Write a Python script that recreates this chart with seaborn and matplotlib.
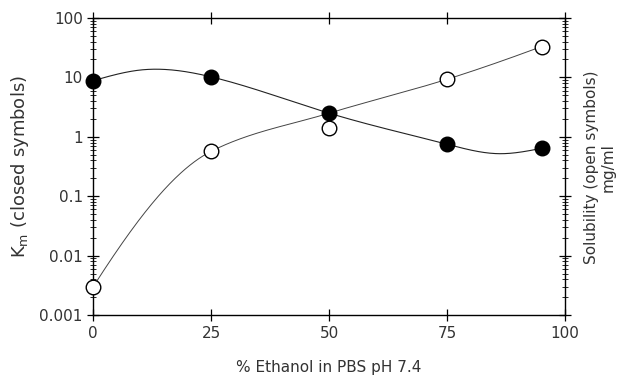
import numpy as np
import pandas as pd
import matplotlib
matplotlib.use("Agg")
import matplotlib.pyplot as plt
import seaborn as sns
from matplotlib.ticker import LogLocator, FixedLocator, NullFormatter

# Data
ethanol = [0, 25, 50, 75, 95]
km_closed = [8.8, 10.2, 2.5, 0.75, 0.64]
sol_open = [0.003, 0.57, 1.42, 9.3, 33.0]

# smooth fit curves as drawn in the picture (knots)
km_curve_x = [0, 10, 25, 50, 75, 86, 95]
km_curve_y = [8.8, 13.3, 10.2, 2.5, 0.75, 0.52, 0.64]
sol_curve_x = [0, 25, 50, 75, 95]
sol_curve_y = [0.003, 0.57, 2.5, 9.3, 33.0]

x_ticks = [0, 25, 50, 75, 100]
y_ticks = [0.001, 0.01, 0.1, 1, 10, 100]
y_tick_labels = ["0.001", "0.01", "0.1", "1", "10", "100"]


def natural_spline(x, y, xs):
    x = np.asarray(x, float); y = np.asarray(y, float)
    n = len(x)
    h = np.diff(x)
    A = np.zeros((n, n)); b = np.zeros(n)
    A[0, 0] = 1; A[-1, -1] = 1
    for i in range(1, n - 1):
        A[i, i - 1] = h[i - 1]
        A[i, i] = 2 * (h[i - 1] + h[i])
        A[i, i + 1] = h[i]
        b[i] = 3 * ((y[i + 1] - y[i]) / h[i] - (y[i] - y[i - 1]) / h[i - 1])
    c = np.linalg.solve(A, b)
    out = np.empty_like(xs)
    for k, xv in enumerate(xs):
        i = int(np.clip(np.searchsorted(x, xv, side="right") - 1, 0, n - 2))
        bb = (y[i + 1] - y[i]) / h[i] - h[i] * (2 * c[i] + c[i + 1]) / 3
        d = (c[i + 1] - c[i]) / (3 * h[i])
        t = xv - x[i]
        out[k] = y[i] + bb * t + c[i] * t ** 2 + d * t ** 3
    return out


def pchip(x, y, xs):
    x = np.asarray(x, float); y = np.asarray(y, float)
    n = len(x)
    h = np.diff(x)
    dl = np.diff(y) / h
    m = np.zeros(n)
    for i in range(1, n - 1):
        if dl[i - 1] * dl[i] > 0:
            w1 = 2 * h[i] + h[i - 1]
            w2 = h[i] + 2 * h[i - 1]
            m[i] = (w1 + w2) / (w1 / dl[i - 1] + w2 / dl[i])
    m[0] = ((2 * h[0] + h[1]) * dl[0] - h[0] * dl[1]) / (h[0] + h[1])
    m[-1] = ((2 * h[-1] + h[-2]) * dl[-1] - h[-1] * dl[-2]) / (h[-1] + h[-2])
    out = np.empty_like(xs)
    for k, xv in enumerate(xs):
        i = int(np.clip(np.searchsorted(x, xv, side="right") - 1, 0, n - 2))
        t = (xv - x[i]) / h[i]
        h00 = 2 * t ** 3 - 3 * t ** 2 + 1
        h10 = t ** 3 - 2 * t ** 2 + t
        h01 = -2 * t ** 3 + 3 * t ** 2
        h11 = t ** 3 - t ** 2
        out[k] = h00 * y[i] + h10 * h[i] * m[i] + h01 * y[i + 1] + h11 * h[i] * m[i + 1]
    return out


xs = np.linspace(0, 95, 400)
km_curve = 10 ** natural_spline(km_curve_x, np.log10(km_curve_y), xs)
sol_curve = 10 ** pchip(sol_curve_x, np.log10(sol_curve_y), xs)

sns.set_style("ticks")
plt.rcParams["font.family"] = ["DejaVu Sans"]

fig = plt.figure(figsize=(6.21, 3.9), dpi=100)
ax = fig.add_axes([0.150, 0.192, 0.760, 0.762])

sns.lineplot(x=xs, y=km_curve, ax=ax, color="#222222", lw=0.8, sort=False)
sns.lineplot(x=xs, y=sol_curve, ax=ax, color="#444444", lw=0.7, sort=False)

df = pd.DataFrame({"x": ethanol, "km": km_closed, "sol": sol_open})
sns.scatterplot(data=df, x="x", y="km", ax=ax, s=110, color="black",
                edgecolor="black", linewidth=1.0, zorder=5, clip_on=False)
sns.scatterplot(data=df, x="x", y="sol", ax=ax, s=110, facecolor="white",
                edgecolor="black", linewidth=1.0, zorder=5, clip_on=False)

ax.set_yscale("log")
ax.set_xlim(0, 100)
ax.set_ylim(0.001, 100)
ax.xaxis.set_major_locator(FixedLocator(x_ticks))
ax.set_yticks(y_ticks)
ax.set_yticklabels(y_tick_labels)
ax.yaxis.set_minor_locator(LogLocator(base=10, subs=np.arange(2, 10), numticks=20))
ax.yaxis.set_minor_formatter(NullFormatter())

for s in ax.spines.values():
    s.set_linewidth(1.0)
    s.set_color("black")

ax.tick_params(axis="both", which="major", direction="inout", length=8, width=0.9,
               top=True, right=True, labelsize=11, colors="black", labelcolor="#333333")
ax.tick_params(axis="y", which="minor", direction="inout", length=5, width=0.7,
               right=True, left=True)
ax.tick_params(axis="x", which="major", labeltop=False)
ax.tick_params(axis="y", labelright=False)

ax.set_xlabel("% Ethanol in PBS pH 7.4", fontsize=11, color="#333333", labelpad=14)
ax.set_ylabel(r"K$_\mathregular{m}$ (closed symbols)", fontsize=13, color="#333333", labelpad=6)

fig.text(0.953, 0.57, "Solubility (open symbols)", rotation=90, ha="center", va="center",
         fontsize=11, color="#333333")
fig.text(0.980, 0.57, "mg/ml", rotation=90, ha="center", va="center",
         fontsize=11, color="#333333")

fig.savefig("out.png", dpi=100)
